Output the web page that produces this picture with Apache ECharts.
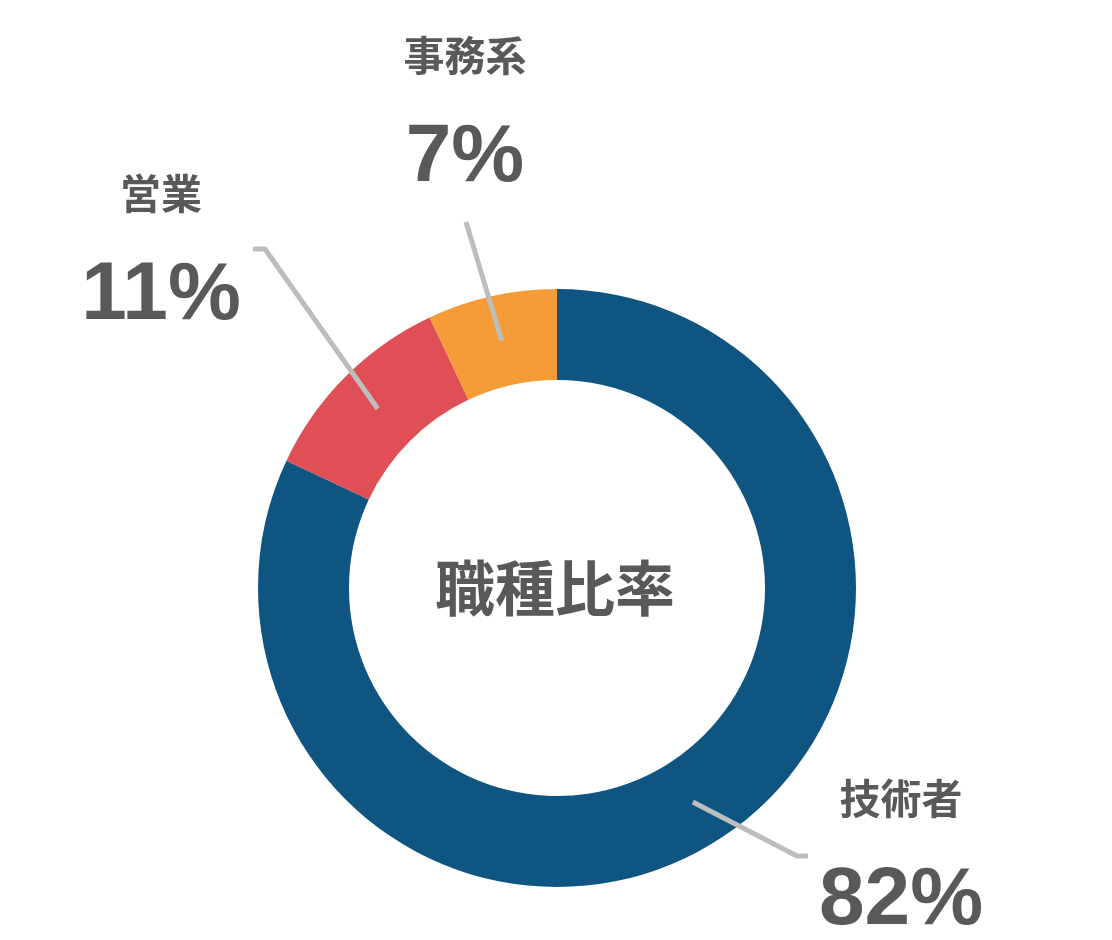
<!DOCTYPE html>
<html>
<head>
<meta charset="utf-8">
<script src="https://cdn.jsdelivr.net/npm/echarts@6/dist/echarts.min.js"></script>
<style>
html,body{margin:0;padding:0;background:#fff;}
#chart{width:1112px;height:940px;}
</style>
</head>
<body>
<div id="chart"></div>
<script>
// ---- data ----
const categories = ['技術者', '営業', '事務系'];
const shares = [82, 11, 7];
const sliceColors = ['#0f5582', '#e04f55', '#f59b37'];
const centerTitle = '職種比率';

// ---- layout ----
const CX = 557, CY = 588, R_IN = 208, R_OUT = 299;
const TEXT = '#595959';
const LINE = '#bdbdbd';
// label centres and leader-line elbow/end (layout only)
const labelPos = [
  { x: 901, y: 843, elbow: [797, 856], end: [808, 856] },
  { x: 161, y: 238, elbow: [265, 249], end: [253, 249] },
  { x: 465, y: 100, elbow: [466, 222], end: [466, 222] }
];

const total = shares.reduce((a, b) => a + b, 0);
let acc = 0;
const midAngles = shares.map(v => { const m = acc + v / 2; acc += v; return m / total * Math.PI * 2; });
const rMid = (R_IN + R_OUT) / 2;

const basePie = {
  type: 'pie',
  center: [CX, CY],
  radius: [R_IN, R_OUT],
  startAngle: 90,
  clockwise: true,
  silent: true,
  avoidLabelOverlap: false
};

const chart = echarts.init(document.getElementById('chart'));
chart.setOption({
  backgroundColor: '#ffffff',
  animation: false,
  graphic: [{
    type: 'text',
    x: CX - 2, y: CY,
    style: {
      text: centerTitle,
      fill: TEXT,
      font: 'bold 60px "Noto Sans CJK JP"',
      textAlign: 'center',
      textVerticalAlign: 'middle'
    }
  }],
  series: [
    Object.assign({}, basePie, {
      z: 2,
      data: categories.map((c, i) => ({ name: c, value: shares[i], itemStyle: { color: sliceColors[i] } })),
      label: { show: false },
      labelLine: { show: false }
    }),
    Object.assign({}, basePie, {
      z: 5,
      data: categories.map((c, i) => ({ name: c, value: shares[i], itemStyle: { color: 'rgba(0,0,0,0)' } })),
      label: {
        show: true,
        position: 'outside',
        formatter: '{n|{b}}\n{p|{c}%}',
        align: 'center',
        rich: {
          n: { fontFamily: '"Noto Sans CJK JP"', fontWeight: 'bold', fontSize: 41, color: TEXT, lineHeight: 106, align: 'center' },
          p: { fontFamily: '"Liberation Sans", Arial, sans-serif', fontWeight: 'bold', fontSize: 82, color: TEXT, lineHeight: 100, align: 'center' }
        }
      },
      labelLine: {
        show: true,
        showAbove: true,
        smooth: false,
        lineStyle: { color: LINE, width: 5, opacity: 1 }
      },
      labelLayout: function (params) {
        const i = params.dataIndex;
        const p = labelPos[i];
        const a = midAngles[i];
        const start = [CX + rMid * Math.sin(a), CY - rMid * Math.cos(a)];
        return {
          x: p.x, y: p.y + 5,
          align: 'center', verticalAlign: 'middle',
          labelLinePoints: [start, p.elbow, p.end]
        };
      }
    })
  ]
});
</script>
</body>
</html>
